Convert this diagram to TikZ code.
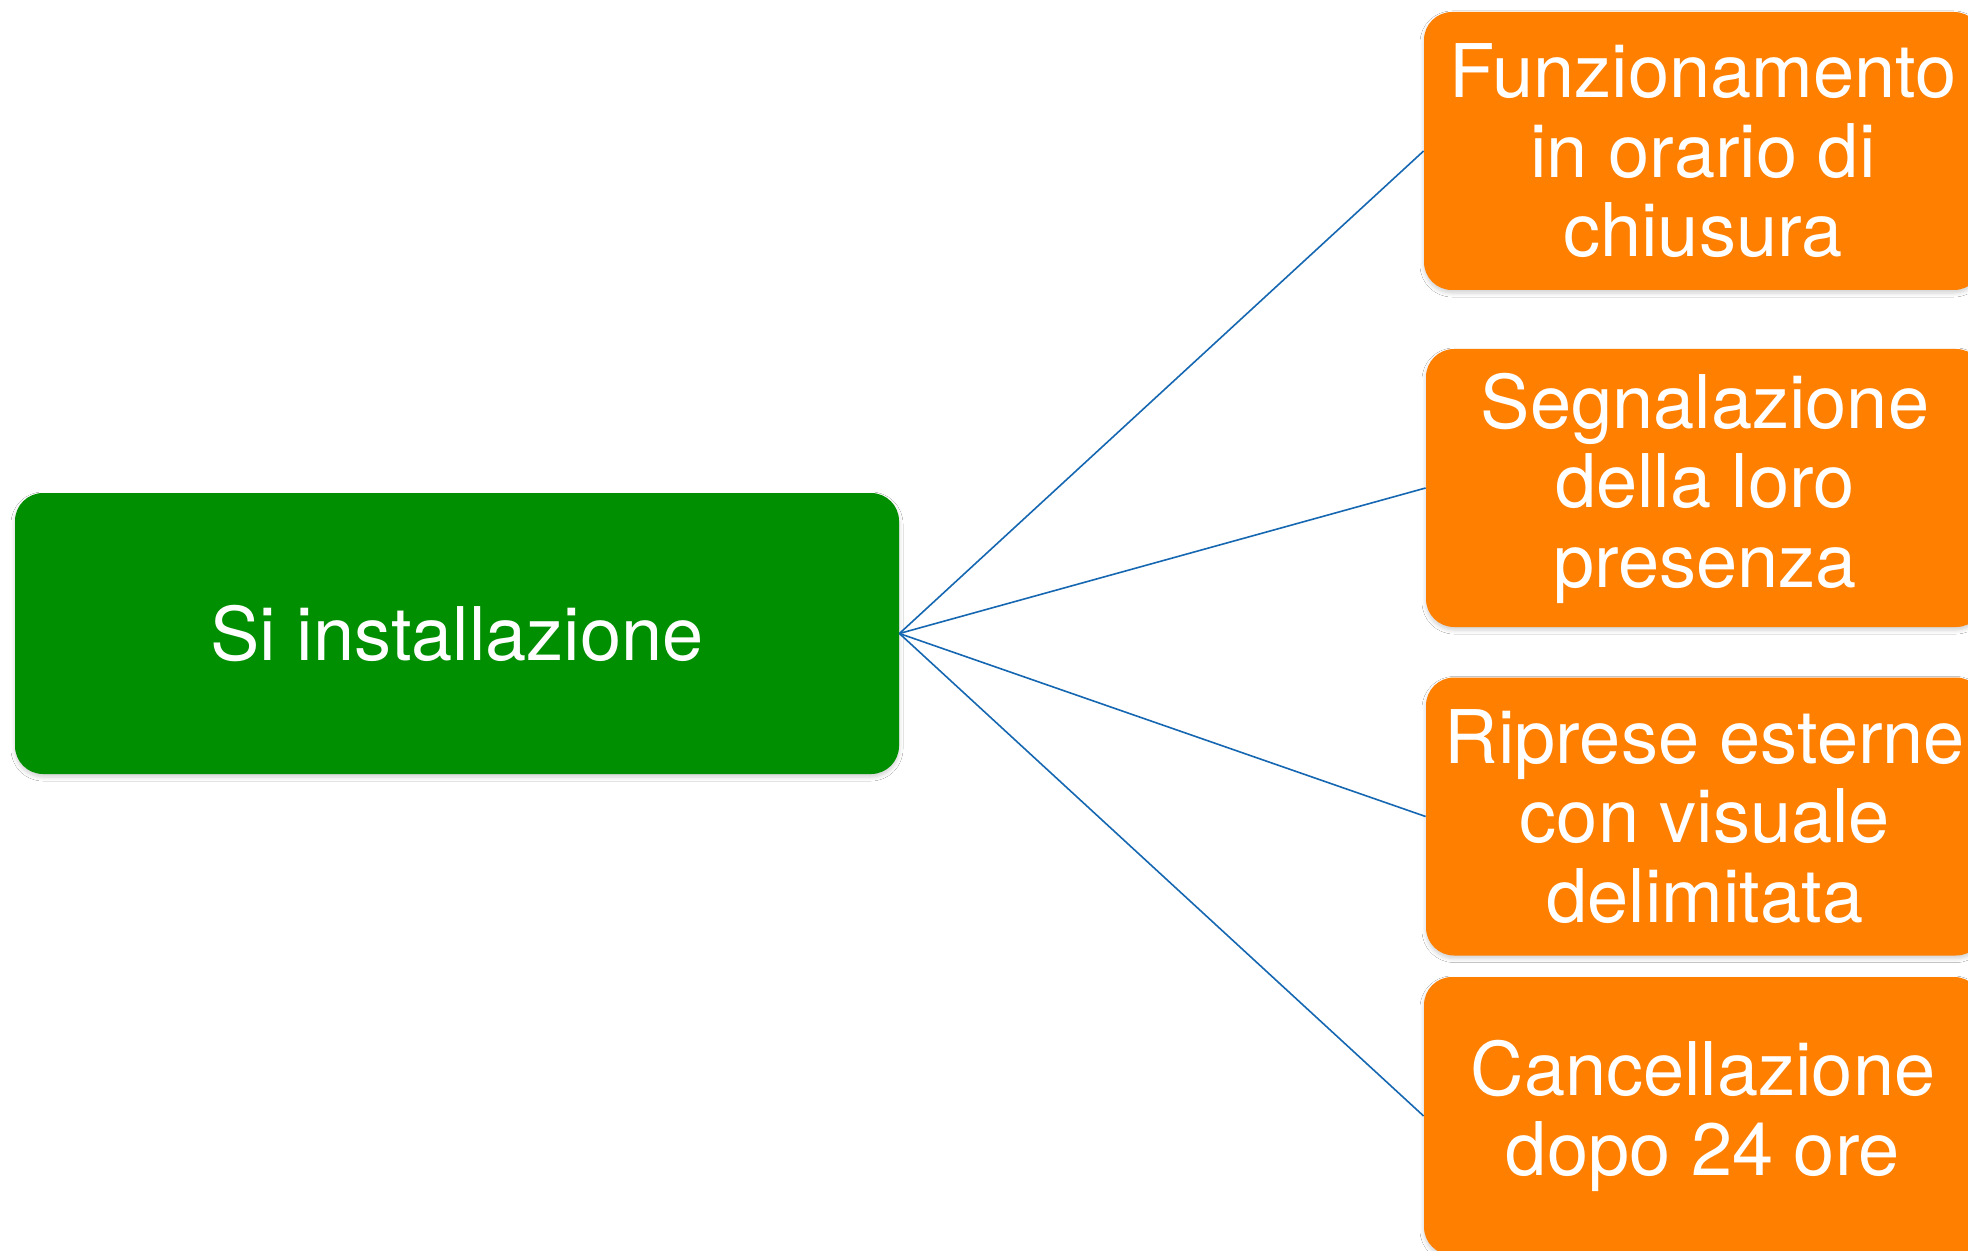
\documentclass[tikz,border=0pt]{standalone}
\usepackage{fontspec}
\setmainfont{TeX Gyre Heros}
\usetikzlibrary{shadows.blur}
\definecolor{boxgreen}{RGB}{0,143,0}
\definecolor{boxorange}{RGB}{255,127,0}
\definecolor{linkblue}{RGB}{22,103,178}
\begin{document}
\begin{tikzpicture}[x=0.5pt,y=-0.5pt,
  card/.style={rounded corners=14pt, inner sep=0pt, align=center, text=white,
    font=\fontsize{37}{39.75}\selectfont,
    blur shadow={shadow xshift=0pt,shadow yshift=-1.5pt,shadow blur radius=2pt,shadow blur steps=6,shadow opacity=18}},
  rootcard/.style={card, fill=boxgreen, minimum width=442pt, minimum height=140.5pt},
  leafcard/.style={card, fill=boxorange, minimum width=279pt, minimum height=139pt},
  link/.style={draw=linkblue, line width=0.8pt}]
\fill[white] (0,0) rectangle (1968,1251);
\useasboundingbox (0,0) rectangle (1968,1251);
\clip (0,0) rectangle (1968,1251);
\node[rootcard] (root) at (457,633.5) {Si installazione};
\node[leafcard] (a) at (1703,151) {Funzionamento\\in orario di\\chiusura};
\node[leafcard] (b) at (1705,488) {Segnalazione\\della loro\\presenza};
\node[leafcard] (c) at (1705,816.5) {Riprese esterne\\con visuale\\delimitata};
\node[leafcard] (d) at (1703,1116) {Cancellazione\\dopo 24 ore};
\foreach \t in {a,b,c,d} \draw[link] (root.east) -- (\t.west);
\end{tikzpicture}
\end{document}
